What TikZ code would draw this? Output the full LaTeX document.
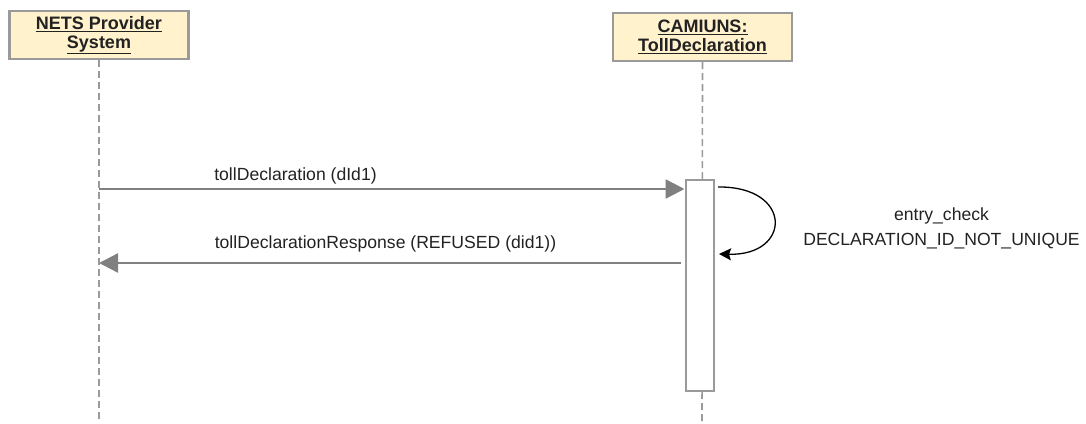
\documentclass[tikz,border=0pt]{standalone}
\usepackage{fontspec}
\setmainfont{Liberation Sans}
\usetikzlibrary{arrows.meta}
\definecolor{boxfill}{HTML}{FFF2CC}
\definecolor{boxdraw}{HTML}{9A9A9A}
\definecolor{msg}{HTML}{808080}
\definecolor{txt}{HTML}{222222}
\tikzset{
  participant/.style={draw=boxdraw, line width=2.2pt, fill=boxfill, minimum width=179pt, minimum height=48pt, inner sep=0pt, align=center, font=\fontsize{18}{21}\selectfont\bfseries, text=txt},
  lifeline/.style={draw=boxdraw, line width=1.6pt, dash pattern=on 7pt off 4pt},
  activation/.style={draw=boxdraw, line width=2pt, fill=white, minimum width=28pt, minimum height=211pt, inner sep=0pt},
  message/.style={draw=msg, line width=2.4pt, -{Triangle[length=19pt,width=19pt]}},
  selfmsg/.style={draw=black, line width=1.3pt, -{Stealth[length=12pt,width=12pt,inset=2pt]}},
  lbl/.style={font=\fontsize{17.6}{21}\selectfont, text=txt, inner sep=0pt}
}
\begin{document}
\begin{tikzpicture}[x=1pt,y=-1pt]
\useasboundingbox (0,0) rectangle (1086,423);
% participants
\node[participant] (p1) at (99,35) {\underline{NETS Provider}\\[-2pt]\underline{System}};
\node[participant] (p2) at (702.5,37) {\underline{CAMIUNS:}\\[-2pt]\underline{TollDeclaration}};
% lifeline ends
\coordinate (p1end) at (99,422);
\coordinate (p2end) at (702,423);
\draw[lifeline] (p1.south) -- (p1end);
\draw[lifeline] (p2.south) -- (p2end);
% activation
\node[activation] (act) at (699.5,285.5) {};
% message anchors
\coordinate (m1s) at (99,189);
\coordinate (m2e) at (99,263);
\coordinate (m2s) at (681,263);
\coordinate (ls) at (718,187);
\coordinate (le) at (719,254);
\draw[message] (m1s) -- (act.west |- m1s);
\draw[message] (m2s) -- (m2e);
\draw[selfmsg] (ls) .. controls (793,186) and (792,256) .. (le);
% labels
\node[lbl, anchor=base] (l1) at (295.5,180) {tollDeclaration (dId1)};
\node[lbl, anchor=base] (l2) at (385.5,248) {tollDeclarationResponse (REFUSED (did1))};
\node[lbl, anchor=base] (l3) at (941.5,220) {entry\_check};
\node[lbl, anchor=base] (l4) at (941.5,245) {DECLARATION\_ID\_NOT\_UNIQUE};
\end{tikzpicture}
\end{document}
